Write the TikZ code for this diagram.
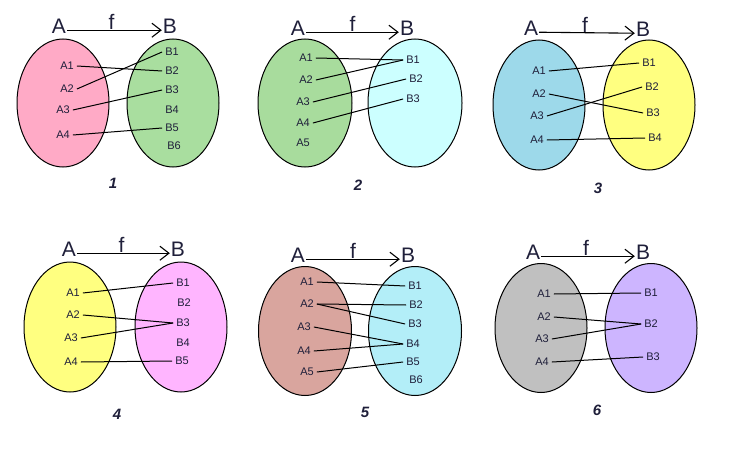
\documentclass[tikz,border=0pt]{standalone}
\usepackage{fontspec}
\setmainfont{Liberation Sans}
\usepackage{tikz}
\usetikzlibrary{arrows.meta}
\definecolor{txt}{HTML}{1F1F3A}
\definecolor{pinkA}{HTML}{FFAAC6}
\definecolor{greenB}{HTML}{A9DE9F}
\definecolor{greenA}{HTML}{A8DC9D}
\definecolor{cyanB}{HTML}{CCFFFF}
\definecolor{blueA}{HTML}{9DD9EA}
\definecolor{yellowB}{HTML}{FFFF80}
\definecolor{magB}{HTML}{FFB5FF}
\definecolor{brownA}{HTML}{D9A59E}
\definecolor{cyanC}{HTML}{B3EEF8}
\definecolor{grayA}{HTML}{C0C0C0}
\definecolor{lavB}{HTML}{CDB5FF}

\begin{document}
\begin{tikzpicture}[x=1pt,y=-1pt,
	setname/.style={font=\fontsize{21}{21}\selectfont,inner sep=1pt,text=txt},
	elt/.style={font=\fontsize{11}{12}\selectfont,inner ysep=2pt,inner xsep=3pt,text=txt},
	num/.style={font=\fontsize{15}{15}\selectfont\bfseries\itshape,text=txt},
	maparrow/.style={-{Straight Barb[length=9pt,width=14pt]},line width=1.1pt},
	mapline/.style={line width=1pt},
	blob/.style={draw,line width=1pt}]
			\useasboundingbox (0,0) rectangle (739,452);
			% 1
			\draw[blob,fill=pinkA] (63,103) ellipse [x radius=46,y radius=64];
			\draw[blob,fill=greenB] (173,103) ellipse [x radius=46,y radius=64];
			\node[setname] (p1A) at (59,26) {A};
			\node[setname] (p1B) at (170,26) {B};
			\draw[maparrow] ([yshift=3pt]p1A.base east) -- node[setname,above,inner sep=0pt,pos=.47] (p1f) {f} ([yshift=3pt]p1B.base west);
			\node[elt] (p1a1) at (67,66) {A1};
			\node[elt] (p1a2) at (67,89) {A2};
			\node[elt] (p1a3) at (63,110) {A3};
			\node[elt] (p1a4) at (63,135) {A4};
			\node[elt] (p1b1) at (172,52) {B1};
			\node[elt] (p1b2) at (172,71) {B2};
			\node[elt] (p1b3) at (172,90) {B3};
			\node[elt] (p1b4) at (172,110) {B4};
			\node[elt] (p1b5) at (172,128) {B5};
			\node[elt] (p1b6) at (174,146) {B6};
			\draw[mapline] (p1a1.east) -- (p1b2.west);
			\draw[mapline] (p1a2.east) -- (p1b1.west);
			\draw[mapline] (p1a3.east) -- (p1b3.west);
			\draw[mapline] (p1a4.east) -- (p1b5.west);
			\node[num] (p1n) at (113,183) {1};
			% 2
			\draw[blob,fill=greenA] (305,103) ellipse [x radius=47,y radius=64];
			\draw[blob,fill=cyanB] (415,103) ellipse [x radius=47,y radius=64];
			\node[setname] (p2A) at (298,28) {A};
			\node[setname] (p2B) at (407,28) {B};
			\draw[maparrow] ([yshift=3pt]p2A.base east) -- node[setname,above,inner sep=0pt,pos=.5] (p2f) {f} ([yshift=3pt]p2B.base west);
			\node[elt] (p2a1) at (306,58) {A1};
			\node[elt] (p2a2) at (306,80) {A2};
			\node[elt] (p2a3) at (303,102) {A3};
			\node[elt] (p2a4) at (303,123) {A4};
			\node[elt] (p2a5) at (303,143) {A5};
			\node[elt] (p2b1) at (413,60) {B1};
			\node[elt] (p2b2) at (416,79) {B2};
			\node[elt] (p2b3) at (413,99) {B3};
			\draw[mapline] (p2a1.east) -- (p2b1.west);
			\draw[mapline] (p2a2.east) -- (p2b1.west);
			\draw[mapline] (p2a3.east) -- (p2b2.west);
			\draw[mapline] (p2a4.east) -- (p2b3.west);
			\node[num] (p2n) at (358,185) {2};
			% 3
			\draw[blob,fill=blueA] (539,105) ellipse [x radius=46,y radius=65];
			\draw[blob,fill=yellowB] (649,105) ellipse [x radius=46,y radius=65];
			\node[setname] (p3A) at (531,28) {A};
			\node[setname] (p3B) at (643,29) {B};
			\draw[maparrow] ([yshift=3pt]p3A.base east) -- node[setname,above,inner sep=0pt,pos=.48] (p3f) {f} ([yshift=3pt]p3B.base west);
			\node[elt] (p3a1) at (539,71) {A1};
			\node[elt] (p3a2) at (539,94) {A2};
			\node[elt] (p3a3) at (537,116) {A3};
			\node[elt] (p3a4) at (537,140) {A4};
			\node[elt] (p3b1) at (649,63) {B1};
			\node[elt] (p3b2) at (652,87) {B2};
			\node[elt] (p3b3) at (653,113) {B3};
			\node[elt] (p3b4) at (655,138) {B4};
			\draw[mapline] (p3a1.east) -- (p3b1.west);
			\draw[mapline] (p3a2.east) -- (p3b3.west);
			\draw[mapline] (p3a3.east) -- (p3b2.west);
			\draw[mapline] (p3a4.east) -- (p3b4.west);
			\node[num] (p3n) at (598,188) {3};
			% 4
			\draw[blob,fill=yellowB] (70,327) ellipse [x radius=46,y radius=65];
			\draw[blob,fill=magB] (181,327) ellipse [x radius=46,y radius=65];
			\node[setname] (p4A) at (69,249) {A};
			\node[setname] (p4B) at (178,249) {B};
			\draw[maparrow] ([yshift=3pt]p4A.base east) -- node[setname,above,inner sep=0pt,pos=.48] (p4f) {f} ([yshift=3pt]p4B.base west);
			\node[elt] (p4a1) at (73,293) {A1};
			\node[elt] (p4a2) at (73,315) {A2};
			\node[elt] (p4a3) at (71,338) {A3};
			\node[elt] (p4a4) at (71,362) {A4};
			\node[elt] (p4b1) at (183,283) {B1};
			\node[elt] (p4b2) at (184,303) {B2};
			\node[elt] (p4b3) at (183,323) {B3};
			\node[elt] (p4b4) at (183,343) {B4};
			\node[elt] (p4b5) at (182,361) {B5};
			\draw[mapline] (p4a1.east) -- (p4b1.west);
			\draw[mapline] (p4a2.east) -- (p4b3.west);
			\draw[mapline] (p4a3.east) -- (p4b3.west);
			\draw[mapline] (p4a4.east) -- (p4b5.west);
			\node[num] (p4n) at (117,414) {4};
			% 5
			\draw[blob,fill=brownA] (305,331) ellipse [x radius=46.5,y radius=64.5];
			\draw[blob,fill=cyanC] (415,331) ellipse [x radius=46.5,y radius=64.5];
			\node[setname] (p5A) at (298,255) {A};
			\node[setname] (p5B) at (408,255) {B};
			\draw[maparrow] ([yshift=3pt]p5A.base east) -- node[setname,above,inner sep=0pt,pos=.5] (p5f) {f} ([yshift=3pt]p5B.base west);
			\node[elt] (p5a1) at (307,282) {A1};
			\node[elt] (p5a2) at (307,304) {A2};
			\node[elt] (p5a3) at (304,327) {A3};
			\node[elt] (p5a4) at (304,351) {A4};
			\node[elt] (p5a5) at (307,372) {A5};
			\node[elt] (p5b1) at (415,286) {B1};
			\node[elt] (p5b2) at (416,305) {B2};
			\node[elt] (p5b3) at (415,324) {B3};
			\node[elt] (p5b4) at (413,344) {B4};
			\node[elt] (p5b5) at (413,362) {B5};
			\node[elt] (p5b6) at (416,380) {B6};
			\draw[mapline] (p5a1.east) -- (p5b1.west);
			\draw[mapline] (p5a2.east) -- (p5b2.west);
			\draw[mapline] (p5a2.east) -- (p5b3.west);
			\draw[mapline] (p5a3.east) -- (p5b4.west);
			\draw[mapline] (p5a4.east) -- (p5b4.west);
			\draw[mapline] (p5a5.east) -- (p5b5.west);
			\node[num] (p5n) at (365,412) {5};
			% 6
			\draw[blob,fill=grayA] (541,328) ellipse [x radius=46,y radius=64.5];
			\draw[blob,fill=lavB] (651,328) ellipse [x radius=46,y radius=64.5];
			\node[setname] (p6A) at (533,252) {A};
			\node[setname] (p6B) at (643,252) {B};
			\draw[maparrow] ([yshift=3pt]p6A.base east) -- node[setname,above,inner sep=0pt,pos=.48] (p6f) {f} ([yshift=3pt]p6B.base west);
			\node[elt] (p6a1) at (544,294) {A1};
			\node[elt] (p6a2) at (544,317) {A2};
			\node[elt] (p6a3) at (542,339) {A3};
			\node[elt] (p6a4) at (542,362) {A4};
			\node[elt] (p6b1) at (651,293) {B1};
			\node[elt] (p6b2) at (651,324) {B2};
			\node[elt] (p6b3) at (653,357) {B3};
			\draw[mapline] (p6a1.east) -- (p6b1.west);
			\draw[mapline] (p6a2.east) -- (p6b2.west);
			\draw[mapline] (p6a3.east) -- (p6b2.west);
			\draw[mapline] (p6a4.east) -- (p6b3.west);
			\node[num] (p6n) at (597,410) {6};
\end{tikzpicture}
\end{document}
